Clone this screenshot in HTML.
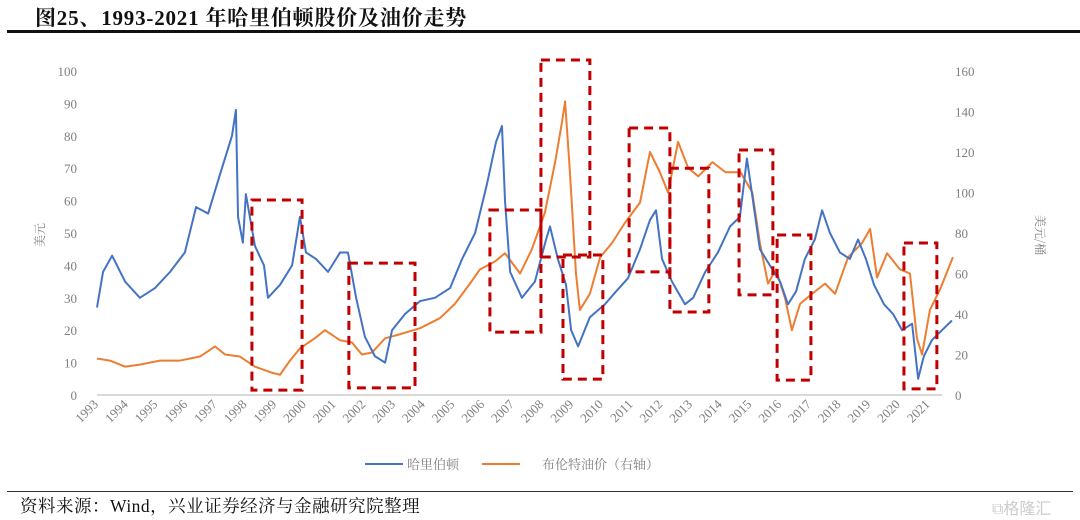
<!DOCTYPE html>
<html><head><meta charset="utf-8"><style>
body{margin:0;background:#fff;width:1080px;height:520px;overflow:hidden;position:relative;font-family:"Liberation Serif","Noto Serif CJK SC",serif}
.t{position:absolute;white-space:nowrap}
</style></head><body>
<div class="t" style="left:35px;top:2px;font-size:21px;letter-spacing:0.8px;font-weight:bold;color:#111">图25、1993-2021 年哈里伯顿股价及油价走势</div>
<div style="position:absolute;left:7px;top:30px;width:1073px;height:3px;background:#111"></div>
<svg id="c" width="1080" height="520" style="position:absolute;left:0;top:0"></svg>
<div style="position:absolute;left:7px;top:491px;width:1066px;height:1px;background:#333"></div>
<div class="t" style="left:20px;top:493px;font-size:17.5px;letter-spacing:0.5px;color:#111">资料来源：Wind，兴业证券经济与金融研究院整理</div>
<div class="t" style="left:992px;top:495px;font-size:16px;color:#ccc;font-family:'Liberation Sans','Noto Sans CJK SC',sans-serif">⧉格隆汇</div>
<script>
const blueT=[1993.00,1993.20,1993.50,1993.93,1994.42,1994.92,1995.42,1995.91,1996.28,1996.68,1997.07,1997.47,1997.60,1997.67,1997.83,1997.93,1998.23,1998.53,1998.66,1999.06,1999.46,1999.72,1999.92,2000.25,2000.65,2001.05,2001.31,2001.58,2001.87,2002.20,2002.54,2002.77,2003.20,2003.70,2004.19,2004.69,2005.09,2005.52,2005.91,2006.21,2006.41,2006.51,2006.68,2007.07,2007.50,2007.87,2008.00,2008.26,2008.53,2008.70,2008.93,2009.32,2009.82,2010.19,2010.58,2010.98,2011.31,2011.51,2011.71,2012.04,2012.47,2012.74,2013.14,2013.56,2013.96,2014.29,2014.52,2014.69,2014.95,2015.28,2015.62,2015.88,2016.15,2016.44,2016.77,2017.01,2017.27,2017.60,2017.93,2018.20,2018.46,2018.73,2019.06,2019.36,2019.66,2019.99,2020.19,2020.38,2020.65,2020.98,2021.31];
const blueV=[27,38,43,35,30,33,38,44,58,56,68,80,88,55,47,62,46,40,30,34,40,55,44,42,38,44,44,30,18,12,10,20,25,29,30,33,42,50,65,78,83,60,38,30,35,48,52,42,34,20,15,24,28,32,36,45,54,57,42,35,28,30,38,44,52,55,73,62,45,40,35,28,32,42,48,57,50,44,42,48,42,34,28,25,20,22,5,12,17,20,23];
const oilT=[1993.00,1993.43,1993.93,1994.42,1995.09,1995.75,1996.41,1996.91,1997.24,1997.73,1998.23,1998.79,1999.06,1999.39,1999.72,2000.21,2000.55,2001.05,2001.44,2001.77,2002.11,2002.54,2003.03,2003.70,2004.36,2004.85,2005.35,2005.68,2006.18,2006.51,2007.01,2007.40,2007.83,2008.17,2008.40,2008.50,2008.66,2008.86,2008.99,2009.32,2009.66,2010.05,2010.48,2010.98,2011.31,2011.64,2011.91,2012.24,2012.58,2012.91,2013.38,2013.81,2014.31,2014.70,2014.95,2015.22,2015.48,2015.78,2016.01,2016.28,2016.68,2017.11,2017.44,2017.87,2018.33,2018.60,2018.83,2019.16,2019.59,2019.92,2020.15,2020.32,2020.58,2020.91,2021.18,2021.34];
const oilV=[18,17,14,15,17,17,19,24,20,19,14,11,10,17,23,28,32,27,26,20,21,28,30,33,38,45,55,62,66,70,60,72,90,115,135,145,110,60,42,50,68,75,85,95,120,110,100,125,112,108,115,110,110,100,75,55,62,48,32,45,50,55,50,68,75,82,58,70,62,60,28,20,42,52,62,68];
const leftTicks=[0,10,20,30,40,50,60,70,80,90,100];
const rightTicks=[0,20,40,60,80,100,120,140,160];
const years=[1993,1994,1995,1996,1997,1998,1999,2000,2001,2002,2003,2004,2005,2006,2007,2008,2009,2010,2011,2012,2013,2014,2015,2016,2017,2018,2019,2020,2021];
const boxX0=[1998.13,2001.34,2006.01,2007.70,2008.43,2010.62,2011.97,2014.26,2015.52,2019.72];
const boxX1=[1999.79,2003.53,2007.70,2009.32,2009.75,2011.97,2013.26,2015.38,2016.64,2020.81];
const boxTop=[60.2,40.7,57.1,103.4,43.2,82.4,70.0,75.6,49.4,46.9];
const boxBot=[1.5,2.2,19.4,42.6,4.9,38.0,25.6,30.9,4.6,1.9];

const NS='http://www.w3.org/2000/svg';
const svg=document.getElementById('c');
const X=t=>97+(t-1993)*30.2;
const YL=v=>395-v*3.24;
const YR=v=>395-v*2.025;
function mk(tag,a,p){const e=document.createElementNS(NS,tag);for(const k in a)e.setAttribute(k,a[k]);(p||svg).appendChild(e);return e;}
const tf='font-family:"Liberation Serif",serif;font-size:13px;fill:#7f7f7f';
let ax=mk('line',{x1:97,x2:942,y1:395,y2:395,stroke:'#d9d9d9','stroke-width':2});


leftTicks.forEach(v=>{const e=mk('text',{x:77,y:YL(v)+5,'text-anchor':'end',style:tf});e.textContent=v;

});
rightTicks.forEach(v=>{const e=mk('text',{x:955,y:YR(v)+5,'text-anchor':'start',style:tf});e.textContent=v;

});
years.forEach(y=>{const x=X(y)-(y-1993)*0.5+2,yy=405;const e=mk('text',{x:x,y:yy,'text-anchor':'end',transform:`rotate(-45 ${x} ${yy})`,style:tf});e.textContent=y;

});
let yl=mk('text',{x:44,y:235,transform:'rotate(-90 44 235)','text-anchor':'middle',style:'font-family:"Noto Serif CJK SC",serif;font-size:12px;fill:#7f7f7f'});yl.textContent='美元';


let yr=mk('text',{x:1036,y:235,transform:'rotate(90 1036 235)','text-anchor':'middle',style:'font-family:"Noto Serif CJK SC",serif;font-size:12px;fill:#7f7f7f'});yr.textContent='美元/桶';


let po=mk('polyline',{points:oilT.map((t,i)=>X(t)+','+YR(oilV[i])).join(' '),fill:'none',stroke:'#ed7d31','stroke-width':2,'stroke-linejoin':'round'});


let pb=mk('polyline',{points:blueT.map((t,i)=>X(t)+','+YL(blueV[i])).join(' '),fill:'none',stroke:'#4472c4','stroke-width':2,'stroke-linejoin':'round'});


boxX0.forEach((x0,i)=>{const r=mk('rect',{x:X(x0),y:YL(boxTop[i]),width:X(boxX1[i])-X(x0),height:YL(boxBot[i])-YL(boxTop[i]),fill:'none',stroke:'#c00000','stroke-width':3,'stroke-dasharray':'9,6'});

});
let l1=mk('line',{x1:365,x2:403,y1:464,y2:464,stroke:'#4472c4','stroke-width':2});


let t1=mk('text',{x:407,y:469,style:'font-family:"Noto Serif CJK SC",serif;font-size:13px;fill:#7f7f7f'});t1.textContent='哈里伯顿';


let l2=mk('line',{x1:482,x2:520,y1:464,y2:464,stroke:'#ed7d31','stroke-width':2});


let t2=mk('text',{x:542,y:469,style:'font-family:"Noto Serif CJK SC",serif;font-size:13px;fill:#7f7f7f'});t2.textContent='布伦特油价（右轴）';


</script>
</body></html>
